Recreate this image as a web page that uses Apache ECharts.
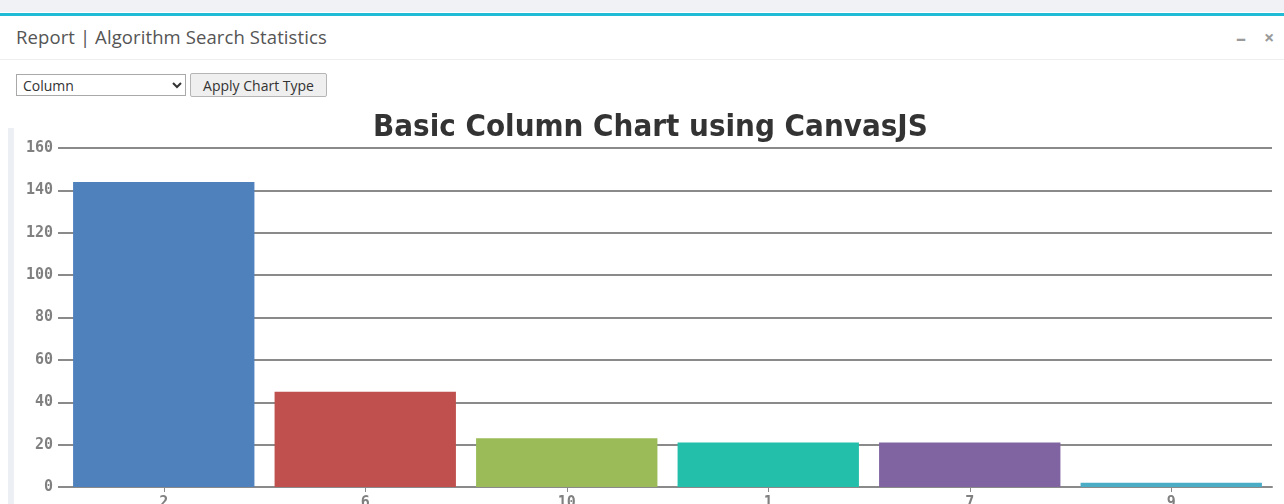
<!DOCTYPE html>
<html>
<head>
<meta charset="utf-8">
<script src="https://cdn.jsdelivr.net/npm/echarts@6/dist/echarts.min.js"></script>
<style>
  html, body { margin: 0; padding: 0; width: 1284px; height: 504px; overflow: hidden; background: #fff; font-family: "Open Sans", "Noto Sans", sans-serif; }
  #topband { position: absolute; left: 0; top: 0; width: 1284px; height: 12px; background: #f1f2f5; }
  #cyan { position: absolute; left: 0; top: 13px; width: 1284px; height: 3px; background: #20bcd5; }
  #head { position: absolute; left: 16px; top: 24px; font-size: 18.5px; color: #555; letter-spacing: 0.1px; }
  #icons { position: absolute; left: 1236px; top: 24px; font-size: 20px; color: #9a9a9a; font-weight: bold; white-space: nowrap; }
  #icons span.x { position: absolute; left: 28px; top: 1px; font-size: 18px; }
  #divider { position: absolute; left: 0; top: 59px; width: 1284px; height: 1px; background: #eeeeee; }
  #sel { position: absolute; left: 16px; top: 74px; width: 170px; height: 22px; font-size: 14px; font-family: "Open Sans", sans-serif; color: #333; border: 1px solid #a9a9a9; background: #fff; padding: 0 2px; box-sizing: border-box; }
  #btn { position: absolute; left: 190px; top: 73px; width: 137px; height: 24px; font-size: 14px; font-family: "Open Sans", sans-serif; color: #333; border: 1px solid #b5b5b5; background: #efefef; border-radius: 2px; padding: 0; }
  #leftband { position: absolute; left: 8px; top: 128px; width: 6px; height: 376px; background: #eceff3; }
  #chart { position: absolute; left: 0; top: 100px; width: 1284px; height: 404px; }
</style>
</head>
<body>
<div id="topband"></div>
<div id="cyan"></div>
<div id="head">Report | Algorithm Search Statistics</div>
<div id="icons"><span>&#8211;</span><span class="x">&#215;</span></div>
<div id="divider"></div>
<select id="sel"><option>Column</option></select>
<button id="btn">Apply Chart Type</button>
<div id="leftband"></div>
<div id="chart"></div>
<script>
const titleText = "Basic Column Chart using CanvasJS";
const categories = ["2", "6", "10", "1", "7", "9"];
const values = [144, 45, 23, 21, 21, 2];
const colors = ["#4F81BC", "#C0504E", "#9BBB58", "#23BFAA", "#8064A1", "#4AACC5"];
const yTicks = { min: 0, max: 160, interval: 20 };

const chart = echarts.init(document.getElementById('chart'), null, { renderer: 'canvas' });
chart.setOption({
  animation: false,
  title: {
    text: titleText, left: 368, top: 7,
    textStyle: { fontFamily: '"DejaVu Sans Condensed", "Liberation Sans Narrow", sans-serif', fontWeight: 'bold', fontSize: 31, color: '#333333' }
  },
  grid: { left: 63, right: 12, top: 48, bottom: 17, containLabel: false, outerBoundsMode: 'none' },
  xAxis: {
    type: 'category', data: categories,
    axisLine: { show: true, lineStyle: { color: '#8a8a8a', width: 2 } },
    axisTick: { show: true, alignWithLabel: true, length: 5, lineStyle: { color: '#8a8a8a', width: 1 } },
    axisLabel: { margin: 9, fontFamily: '"DejaVu Sans Mono", monospace', fontWeight: 'bold', fontSize: 15, color: '#808080' }
  },
  yAxis: {
    type: 'value', min: yTicks.min, max: yTicks.max, interval: yTicks.interval,
    axisLine: { show: false },
    axisTick: { show: true, length: 5, lineStyle: { color: '#8a8a8a', width: 2 } },
    axisLabel: { margin: 10, fontFamily: '"DejaVu Sans Mono", monospace', fontWeight: 'bold', fontSize: 15, color: '#808080' },
    splitLine: { show: true, lineStyle: { color: '#8a8a8a', width: 2 } }
  },
  series: [{
    type: 'bar',
    data: values.map((v, i) => ({ value: v, itemStyle: { color: colors[i] } })),
    barCategoryGap: '10%'
  }]
});
</script>
</body>
</html>
